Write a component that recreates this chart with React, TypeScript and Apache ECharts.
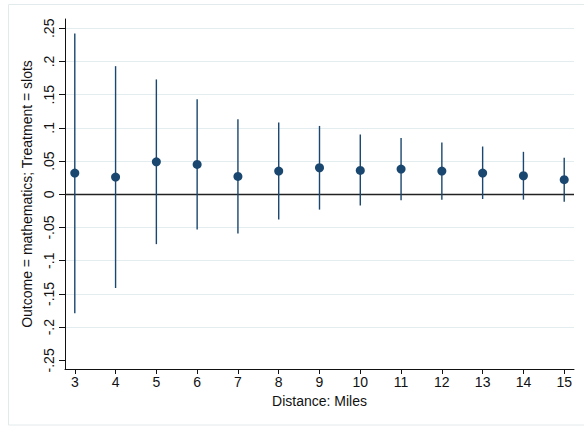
import React, { useEffect, useRef } from "react";
import * as echarts from "echarts";

const distances = [3, 4, 5, 6, 7, 8, 9, 10, 11, 12, 13, 14, 15];
const estimates = [0.032, 0.026, 0.049, 0.045, 0.027, 0.035, 0.04, 0.036, 0.038, 0.035, 0.032, 0.028, 0.022];
const upper = [0.242, 0.193, 0.173, 0.143, 0.113, 0.108, 0.103, 0.09, 0.085, 0.078, 0.072, 0.064, 0.055];
const lower = [-0.179, -0.141, -0.075, -0.053, -0.059, -0.038, -0.023, -0.017, -0.009, -0.008, -0.007, -0.008, -0.011];
const yTicks = [-0.25, -0.2, -0.15, -0.1, -0.05, 0, 0.05, 0.1, 0.15, 0.2, 0.25];
const gridValues = [0.25, 0.2, 0.15, 0.1, 0.05, -0.05, -0.1, -0.15, -0.2];

const NAVY = "#1a476f";
const FONT = "Liberation Sans, Arial, sans-serif";

const fmtY = (v: number) => {
  const s = String(+v.toFixed(2));
  return s.replace(/^(-?)0\./, "$1.");
};

const App: React.FC = () => {
  const chartRef = useRef<HTMLDivElement>(null);

  useEffect(() => {
    if (!chartRef.current) return;
    const chart = echarts.init(chartRef.current, undefined, { renderer: "svg" });

    const option: any = {
      animation: false,
      backgroundColor: "#ffffff",
      textStyle: { fontFamily: FONT },
      graphic: [
        {
          type: "rect",
          silent: true,
          shape: { x: 8.5, y: 4.5, width: 600, height: 420.5 },
          style: { fill: "none", stroke: "#e2eaec", lineWidth: 1 },
        },
      ],
      grid: { left: 65, right: 10, top: 19, bottom: 57 },
      xAxis: {
        type: "value",
        min: 2.76,
        max: 15.24,
        name: "Distance: Miles",
        nameLocation: "middle",
        nameGap: 23,
        nameTextStyle: { fontSize: 14, color: "#111", fontFamily: FONT },
        axisLine: { show: true, onZero: false, lineStyle: { color: "#111", width: 1 } },
        axisTick: { show: true, length: 5, customValues: distances, lineStyle: { color: "#111" } },
        axisLabel: {
          customValues: distances,
          fontSize: 14,
          color: "#111",
          margin: 6,
          fontFamily: FONT,
        },
        splitLine: { show: false },
      },
      yAxis: {
        type: "value",
        min: -0.263,
        max: 0.264,
        name: "Outcome = mathematics; Treatment = slots",
        nameLocation: "middle",
        nameGap: 26,
        nameTextStyle: { fontSize: 14, color: "#111", fontFamily: FONT },
        axisLine: { show: true, onZero: false, lineStyle: { color: "#111", width: 1 } },
        axisTick: { show: true, length: 6, customValues: yTicks, lineStyle: { color: "#111" } },
        axisLabel: {
          customValues: yTicks,
          rotate: 90,
          fontSize: 14,
          color: "#111",
          margin: 9,
          fontFamily: FONT,
          formatter: (v: number) => fmtY(v),
        },
        splitLine: { show: false },
      },
      series: [
        {
          type: "line",
          data: [],
          z: 0,
          silent: true,
          markLine: {
            z: 0,
            silent: true,
            symbol: "none",
            label: { show: false },
            lineStyle: { color: "#e3ecee", width: 1.2, type: "solid" },
            data: gridValues.map((v) => ({ yAxis: v })),
          },
        },
        {
          type: "line",
          data: [],
          z: 1,
          silent: true,
          markLine: {
            z: 1,
            silent: true,
            symbol: "none",
            label: { show: false },
            lineStyle: { color: "#222", width: 1.3, type: "solid" },
            data: [{ yAxis: 0 }],
          },
        },
        {
          type: "custom",
          z: 2,
          silent: true,
          data: distances.map((d, i) => [d, lower[i], upper[i]]),
          encode: { x: 0, y: [1, 2] },
          renderItem: (_params: any, api: any) => {
            const x = api.value(0);
            const p1 = api.coord([x, api.value(1)]);
            const p2 = api.coord([x, api.value(2)]);
            return {
              type: "line",
              shape: { x1: p1[0], y1: p1[1], x2: p2[0], y2: p2[1] },
              style: { stroke: NAVY, lineWidth: 1.4 },
            };
          },
        },
        {
          type: "scatter",
          z: 3,
          symbol: "circle",
          symbolSize: 9,
          itemStyle: { color: NAVY, opacity: 1 },
          data: distances.map((d, i) => [d, estimates[i]]),
        },
      ],
    };

    chart.setOption(option);
    return () => {
      chart.dispose();
    };
  }, []);

  return (
    <div
      ref={chartRef}
      style={{ position: "fixed", left: 0, top: 0, width: "584px", height: "426px" }}
    />
  );
};

export default App;
